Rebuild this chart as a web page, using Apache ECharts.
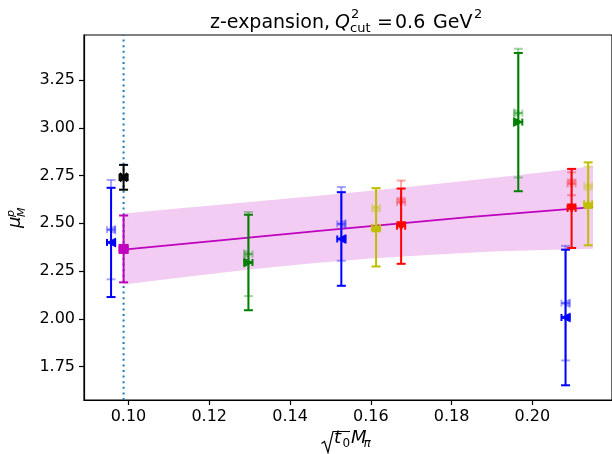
<!DOCTYPE html>
<html><head><meta charset="utf-8">
<script src="https://cdn.jsdelivr.net/npm/echarts@6/dist/echarts.min.js"></script>
<style>html,body{margin:0;padding:0;background:#fff}#c{width:612px;height:454px}</style>
</head><body><div id="c"></div>
<script>
// ---- axes ----
const xTicks = [0.10, 0.12, 0.14, 0.16, 0.18, 0.20];
const yTicks = [1.75, 2.00, 2.25, 2.50, 2.75, 3.00, 3.25];
const xMin = 0.0890, xMax = 0.2197;
const yMin = 1.575, yMax = 3.486;
const cutLineX = 0.0988;

// ---- data points (solid) and their faint companions ----
const blueX = [0.0957, 0.1527, 0.2082];
const blueY = [2.400, 2.418, 2.007];
const blueErr = [0.286, 0.245, 0.355];
const blueFaintY = [2.467, 2.497, 2.082];
const blueFaintErr = [0.26, 0.193, 0.30];

const greenX = [0.1297, 0.1965];
const greenY = [2.295, 3.030];
const greenErr = [0.25, 0.362];
const greenFaintY = [2.339, 3.077];
const greenFaintErr = [0.22, 0.337];

const yellowX = [0.1613, 0.2138];
const yellowY = [2.479, 2.602];
const yellowErr = [0.205, 0.217];
const yellowFaintY = [2.584, 2.698];
const yellowFaintErr = [0.10, 0.10];

const redX = [0.1675, 0.2097];
const redY = [2.485, 2.578];
const redErr = [0.197, 0.207];
const redFaintY = [2.61, 2.707];
const redFaintErr = [0.114, 0.06];

const magentaX = [0.0988];
const magentaY = [2.366];
const magentaErr = [0.175];

const blackX = [0.0988];
const blackY = [2.741];
const blackErr = [0.065];

const xErr = 0.001;

// ---- fit line and error band ----
const fitX = [0.0988, 0.1472, 0.1842, 0.2150];
const fitY = [2.362, 2.460, 2.533, 2.585];
const bandX = [0.0988, 0.115, 0.130, 0.145, 0.160, 0.175, 0.190, 0.205, 0.2150];
const bandUpper = [2.552, 2.583, 2.612, 2.641, 2.670, 2.703, 2.737, 2.773, 2.800];
const bandLower = [2.180, 2.222, 2.258, 2.290, 2.316, 2.336, 2.352, 2.362, 2.367];

const FONT = 'DejaVu Sans';

function errSeries(color, xs, ys, errs, opacity, z) {
  return {
    type: 'custom', silent: true, z: z,
    encode: { x: 0, y: 1 },
    data: xs.map((x, i) => [x, ys[i], errs[i], xErr]),
    renderItem: function (params, api) {
      const x = api.value(0), y = api.value(1), e = api.value(2), xe = api.value(3);
      const top = api.coord([x, y + e]), bot = api.coord([x, y - e]);
      const l = api.coord([x - xe, y]), r = api.coord([x + xe, y]);
      const cw = 4.5, ch = 3.5;
      const st = { stroke: color, lineWidth: 2, opacity: opacity };
      const L = (x1, y1, x2, y2) => ({ type: 'line', shape: { x1, y1, x2, y2 }, style: st });
      return { type: 'group', children: [
        L(top[0], top[1], bot[0], bot[1]),
        L(top[0] - cw, top[1], top[0] + cw, top[1]),
        L(bot[0] - cw, bot[1], bot[0] + cw, bot[1]),
        L(l[0], l[1], r[0], r[1]),
        L(l[0], l[1] - ch, l[0], l[1] + ch),
        L(r[0], r[1] - ch, r[0], r[1] + ch)
      ]};
    }
  };
}
function markSeries(color, xs, ys, symbol, size, rotate, opacity, z) {
  return {
    type: 'scatter', silent: true, z: z,
    data: xs.map((x, i) => [x, ys[i]]),
    symbol: symbol, symbolSize: size, symbolRotate: rotate,
    itemStyle: { color: color, opacity: opacity }
  };
}
const XPATH = 'path://M0,2 L2,0 L5,3 L8,0 L10,2 L7,5 L10,8 L8,10 L5,7 L2,10 L0,8 L3,5 Z';

const series = [];
// band
series.push({
  type: 'custom', silent: true, z: 1,
  encode: { x: 0, y: 1 },
  data: bandX.map((x, i) => [x, bandLower[i], bandUpper[i]]),
  renderItem: function (params, api) {
    if (params.dataIndex !== 0) return null;
    const pts = [];
    for (let i = 0; i < bandX.length; i++) pts.push(api.coord([bandX[i], bandUpper[i]]));
    for (let i = bandX.length - 1; i >= 0; i--) pts.push(api.coord([bandX[i], bandLower[i]]));
    return { type: 'polygon', shape: { points: pts }, style: { fill: 'rgba(191,0,191,0.2)' } };
  }
});
// vertical cut line (spans the full axis height)
series.push({
  type: 'line', silent: true, z: 2, symbol: 'none',
  data: [[cutLineX, yMin], [cutLineX, yMax]],
  lineStyle: { color: '#1f77b4', width: 2, type: [2, 3.6] }
});
// fit line
series.push({
  type: 'line', silent: true, z: 2, symbol: 'none',
  data: fitX.map((x, i) => [x, fitY[i]]),
  lineStyle: { color: '#bf00bf', width: 1.8 }
});

const groups = [
  ['#0000ff', blueX, blueY, blueErr, blueFaintY, blueFaintErr, 'triangle', 10, 90],
  ['#008000', greenX, greenY, greenErr, greenFaintY, greenFaintErr, 'triangle', 10, -90],
  ['#bfbf00', yellowX, yellowY, yellowErr, yellowFaintY, yellowFaintErr, 'triangle', 10, 0],
  ['#ff0000', redX, redY, redErr, redFaintY, redFaintErr, 'triangle', 10, 180]
];
groups.forEach(g => {
  const [c, xs, ys, es, fys, fes, sym, sz, rot] = g;
  series.push(errSeries(c, xs, fys, fes, 0.35, 3));
  series.push(markSeries(c, xs, fys, sym, sz, rot, 0.35, 4));
});
groups.forEach(g => {
  const [c, xs, ys, es, fys, fes, sym, sz, rot] = g;
  series.push(errSeries(c, xs, ys, es, 1, 5));
  series.push(markSeries(c, xs, ys, sym, sz, rot, 1, 6));
});
series.push(errSeries('#bf00bf', magentaX, magentaY, magentaErr, 1, 5));
series.push(markSeries('#bf00bf', magentaX, magentaY, 'rect', 10, 0, 1, 6));
series.push(errSeries('#000000', blackX, blackY, blackErr, 1, 5));
series.push(markSeries('#000000', blackX, blackY, XPATH, 10, 0, 1, 6));

const tS = (size, italic) => (italic ? 'italic ' : '') + size + 'px "' + FONT + '"';
const txt = (x, y, text, size, italic, align) => ({
  type: 'text', x: x, y: y, silent: true,
  style: { text: text, font: tS(size, italic), fill: '#000', align: align || 'left', verticalAlign: 'middle' }
});

const option = {
  animation: false,
  backgroundColor: '#fff',
  grid: { left: 84, top: 35, bottom: 54, right: -2, show: true, borderColor: '#000', borderWidth: 1.2, backgroundColor: 'transparent' },
  xAxis: {
    type: 'value', min: xMin, max: xMax,
    axisLine: { show: true, lineStyle: { color: '#000', width: 1.2 } },
    axisTick: { show: true, customValues: xTicks, length: 5, lineStyle: { color: '#000', width: 1.2 } },
    axisLabel: { customValues: xTicks, formatter: v => v.toFixed(2), fontSize: 16, color: '#000', fontFamily: FONT, margin: 9 },
    splitLine: { show: false }
  },
  yAxis: {
    type: 'value', min: yMin, max: yMax,
    axisLine: { show: true, lineStyle: { color: '#000', width: 1.2 } },
    axisTick: { show: true, customValues: yTicks, length: 5, lineStyle: { color: '#000', width: 1.2 } },
    axisLabel: { customValues: yTicks, formatter: v => v.toFixed(2), fontSize: 16, color: '#000', fontFamily: FONT, margin: 9 },
    splitLine: { show: false }
  },
  series: series,
  graphic: [
    // title: z-expansion, Q^2_cut = 0.6 GeV^2
    txt(330, 23, 'z-expansion,', 19, false, 'right'),
    txt(335, 23, 'Q', 19, true),
    txt(351, 14.5, '2', 13, false),
    txt(350, 29, 'cut', 13, false),
    txt(377, 23, '=', 19, false),
    txt(395, 23, '0.6', 19, false),
    txt(433, 23, 'GeV', 19, false),
    txt(474, 14.5, '2', 13, false),
    // x label: sqrt(t0) M_pi
    { type: 'polyline', silent: true, shape: { points: [[321.5, 443.5], [324.5, 441.5], [328, 452.5], [333, 431.5], [350, 431.5]] },
      style: { stroke: '#000', lineWidth: 1.2, fill: null } },
    txt(334, 438.5, 't', 18, true),
    txt(342.5, 444, '0', 12, false),
    txt(351, 438.5, 'M', 18, true),
    txt(363.5, 444, 'π', 12, true),
    // y label: mu^p_M (rotated)
    { type: 'group', x: 20.5, y: 228, rotation: Math.PI / 2, silent: true, children: [
      txt(0, -4.7, 'μ', 18, true),
      txt(11, 1.2, 'M', 11, true),
      txt(11, -9.8, 'p', 11, true)
    ]}
  ]
};
const chart = echarts.init(document.getElementById('c'), null, { renderer: 'canvas' });
chart.setOption(option);
</script></body></html>
